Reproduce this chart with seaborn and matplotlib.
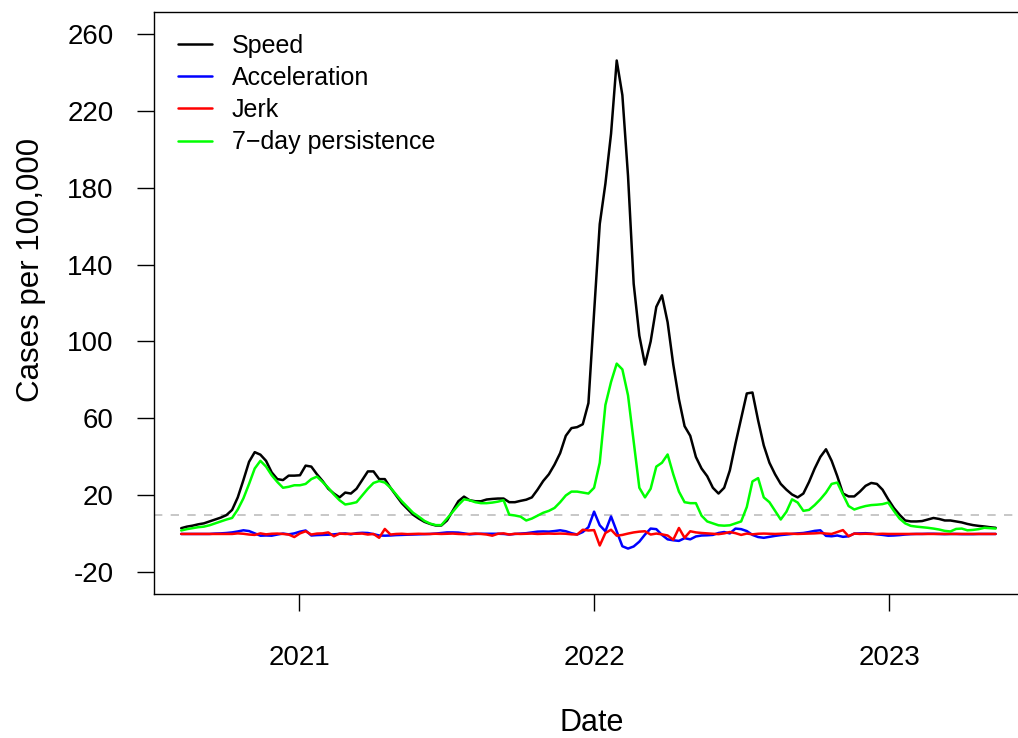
import numpy as np
import pandas as pd
import matplotlib
matplotlib.use("Agg")
import matplotlib.pyplot as plt
import matplotlib.dates as mdates
import seaborn as sns

# ---------------- data (weekly) ----------------
start_date = "2020-08-08"
n_weeks = 145

speed = [3, 3.8, 4.3, 5, 5.5, 6.5, 7.5, 8.5, 9.8, 12.5,
         19, 28, 37.5, 42.5, 41.2, 38, 32, 28.5, 28, 30.3,
         30.3, 30.5, 35.5, 35, 31, 27.5, 23.5, 21, 19, 21.5,
         21, 23.5, 28, 32.5, 32.5, 28.5, 28.5, 24, 20, 16,
         13, 10, 8, 6.3, 5.2, 4.4, 4.4, 7, 12, 17,
         19.4, 17.5, 17, 17, 17.9, 18.2, 18.4, 18.4, 16.5, 16.5,
         17.2, 17.8, 19, 23, 27.5, 31, 36, 42, 51, 55,
         55.5, 57, 68, 115, 161, 182, 208, 246, 228, 186,
         130, 103, 88, 100, 118, 124, 110, 88, 70, 56,
         51, 40, 34, 30, 24, 21, 24, 33, 47, 60,
         73, 73.5, 59, 46, 37, 31, 26, 23, 20.5, 19,
         21, 27, 34, 40, 44, 38, 30, 21, 19.5, 19.5,
         22, 25, 26.5, 26, 23, 18, 13.5, 10, 7, 6.5,
         6.5, 6.7, 7.5, 8.3, 7.8, 7, 7, 6.5, 6, 5.2,
         4.6, 4.2, 3.9, 3.5, 3.2]

acceleration = [0, 0, 0, 0, 0, 0, 0.2, 0.3, 0.5, 0.8,
                1.3, 1.9, 1.5, 0.3, -0.9, -0.8, -0.9, -0.3, 0.2, -0.2,
                0.3, 1.2, 1.8, -0.8, -0.6, -0.5, -0.4, -0.2, 0.1, 0.3,
                -0.2, 0.4, 0.6, 0.5, -0.1, -0.8, -0.9, -0.8, -0.6, -0.5,
                -0.4, -0.3, -0.2, -0.1, 0, 0.2, 0.5, 0.8, 0.8, 0.7,
                0.3, -0.2, 0, 0.1, 0.1, 0.1, 0.1, 0, -0.3, 0,
                0.2, 0.4, 0.8, 1.2, 1.3, 1.2, 1.5, 1.9, 1.4, 0.4,
                -0.3, 1.0, 3.5, 11.6, 4.5, 1.4, 9.1, 1.4, -6.4, -7.6,
                -6.5, -4, -0.3, 2.8, 2.5, -0.5, -2.8, -3.3, -3.6, -2.2,
                -2.8, -1.3, -0.8, -0.7, -0.5, 0.5, 1.0, 0.3, 2.8, 2.5,
                1.5, -0.5, -1.6, -2.0, -1.5, -1.0, -0.6, -0.3, 0, 0.3,
                0.5, 1.0, 1.6, 1.9, -1.0, -1.2, -0.8, -1.5, -1.2, 0.2,
                0.3, 0.4, 0.2, -0.2, -0.5, -0.9, -0.8, -0.6, -0.3, -0.1,
                0, 0, 0.1, 0.1, 0, -0.1, 0, 0, -0.1, -0.1,
                -0.1, 0, 0, 0, 0]

jerk = [0, 0, 0, 0, 0, 0, 0, 0, 0, 0,
        0.3, 0.1, -0.3, -0.5, 0.3, -0.2, 0.1, 0.2, 0, -0.3,
        -1.6, 0.3, 1.4, -0.3, 0.2, 0.3, 0.8, -1.2, 0.2, 0,
        0.1, 0.1, 0.2, -0.3, 0, -2.0, 2.6, -0.3, 0, 0.1,
        -0.1, 0, 0.1, 0, 0, 0.1, 0, 0.1, 0.2, 0,
        -0.1, 0, 0.2, 0, -0.3, -0.9, 0.1, 0.3, -0.3, 0.1,
        0, 0.1, 0.2, 0, 0.1, 0.2, 0.1, 0.2, 0.1, -0.2,
        -0.3, 2.2, 1.8, 2.0, -6.0, 0.5, 2.2, -0.9, -0.5, 0.2,
        0.8, 1.2, 1.4, -0.3, 0.2, -0.2, -0.8, -3.0, 3.1, -2.0,
        1.4, 0.8, 0.5, 0.3, 0.1, -0.1, 0.3, 1.0, 0.4, -0.5,
        0.2, -0.2, 0.1, 0.2, 0.1, 0, 0.1, 0.2, 0.1, 0,
        0.1, 0.2, 0.3, 0.5, 0.2, 0, 1.0, 2.0, -1.2, 0.2,
        0, 0.1, 0, 0, 0.1, 0, 0, 0, 0, 0,
        0, 0, 0, 0, 0, 0, 0, 0, 0, 0,
        0, 0, 0, 0, 0]

persistence = [1.8, 2.5, 3, 3.5, 3.8, 4.5, 5.5, 6.5, 7.5, 8.3,
               12.7, 18.5, 26, 34, 38, 35, 30.5, 27, 24, 24.5,
               25.3, 25.3, 26, 28.5, 29.8, 27, 24, 20.5, 17.5, 15.3,
               15.8, 16.5, 20, 23.5, 26.5, 27.5, 26.7, 24, 20.5, 17,
               14, 11, 9, 6.8, 5.4, 4.6, 4.6, 8, 11.5, 15,
               18, 17.5, 16.5, 16, 16, 16.3, 16.8, 17.5, 10, 9.6,
               9, 7, 8, 9.5, 11, 12, 13.5, 16.5, 20, 22,
               22, 21.5, 21, 24, 37, 67, 79, 88.5, 85.5, 72,
               48, 24, 19, 23.5, 35, 37, 41.3, 31, 22, 16.5,
               16, 16, 9.5, 6.5, 5.5, 4.5, 4.3, 4.5, 5.5, 6.5,
               14, 27.3, 29, 19, 16.5, 12, 7.5, 11.5, 18, 16.3,
               12, 12.5, 15, 18, 21.5, 26, 26.7, 20.5, 14.5, 12.7,
               13.7, 14.5, 15, 15.2, 15.5, 16.3, 12, 8, 5.5, 4.2,
               3.8, 3.5, 3.2, 2.8, 2.3, 1.6, 1.3, 2.6, 2.8, 1.9,
               2.1, 2.5, 3.2, 3, 2.8]

series_names = ["Speed", "Acceleration", "Jerk", "7\u2212day persistence"]
series_colors = ["black", "blue", "red", "#00FF00"]
year_ticks = ["2021-01-01", "2022-01-01", "2023-01-01"]
year_labels = ["2021", "2022", "2023"]
y_ticks = list(range(-20, 261, 40))
threshold = 10

dates = pd.date_range(start_date, periods=n_weeks, freq="7D")
df = pd.concat([
    pd.DataFrame({"Date": dates, "value": vals, "series": name})
    for name, vals in zip(series_names, [speed, acceleration, jerk, persistence])
], ignore_index=True)

# ---------------- style ----------------
sns.set_style("ticks")
plt.rcParams["font.family"] = ["Liberation Sans", "DejaVu Sans"]
plt.rcParams["axes.unicode_minus"] = True
plt.rcParams["text.color"] = "black"
plt.rcParams["axes.labelcolor"] = "black"

W, H = 1018, 738
fig = plt.figure(figsize=(W / 100, H / 100), dpi=100)
px_per_day = 0.808
ax_left_px, ax_right_px = 154, 1028.5
ax_top_px, ax_bot_px = 12, 594
ax = fig.add_axes([ax_left_px / W, (H - ax_bot_px) / H,
                   (ax_right_px - ax_left_px) / W, (ax_bot_px - ax_top_px) / H])

ax.axhline(threshold, color="#BEBEBE", lw=1.2, ls=(0, (5, 5)), zorder=1)

sns.lineplot(data=df, x="Date", y="value", hue="series",
             hue_order=series_names, palette=dict(zip(series_names, series_colors)),
             linewidth=1.8, errorbar=None, ax=ax, zorder=2)

# x limits (R-style padding)
x0 = mdates.date2num(pd.Timestamp(start_date)) - (181.2 - ax_left_px) / px_per_day
x1 = x0 + (ax_right_px - ax_left_px) / px_per_day
ax.set_xlim(x0, x1)
ax.set_ylim(-31.2, 271.2)

ax.set_xticks([mdates.date2num(pd.Timestamp(t)) for t in year_ticks])
ax.set_xticklabels(year_labels)
ax.set_yticks(y_ticks)
ax.set_yticklabels([str(v) for v in y_ticks])

ax.tick_params(axis="both", which="major", length=12, width=1.0, color="black",
               labelsize=20, labelcolor="black")
ax.tick_params(axis="x", pad=25)
ax.tick_params(axis="y", pad=17)
for s in ax.spines.values():
    s.set_visible(True)
    s.set_linewidth(1.0)
    s.set_color("black")

ax.set_xlabel("Date", fontsize=22)
ax.set_ylabel("Cases per 100,000", fontsize=22.5)
ax.xaxis.set_label_coords(0.5, -0.196)
ax.yaxis.set_label_coords(-0.1235, 0.557)

handles, labels = ax.get_legend_handles_labels()
ax.legend(handles=handles, labels=labels, loc="upper left",
          bbox_to_anchor=(0.0274, 0.963), frameon=False, fontsize=18,
          handlelength=1.36, handletextpad=0.8, labelspacing=0.33,
          borderaxespad=0, borderpad=0)

fig.savefig("out.png", dpi=100)
